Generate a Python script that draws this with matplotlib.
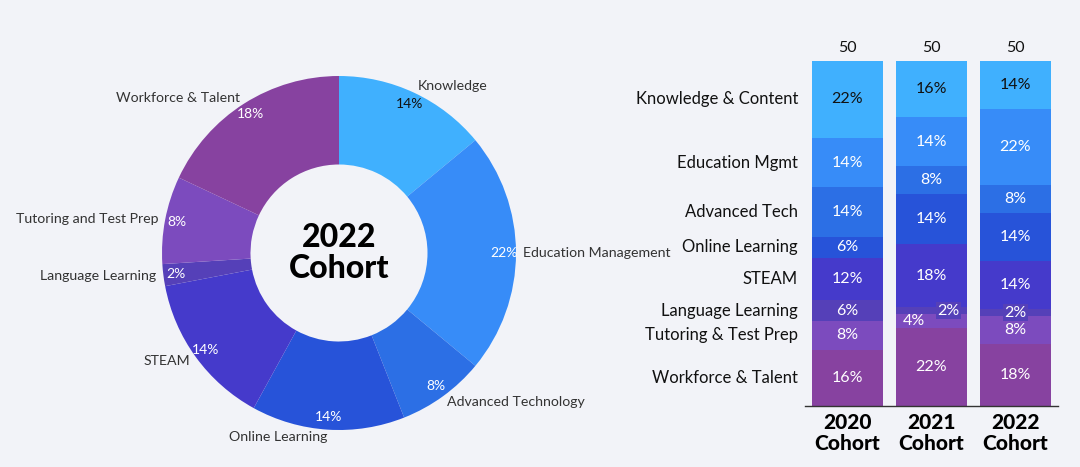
import numpy as np
import matplotlib.pyplot as plt

plt.rcParams['font.family'] = ['Lato', 'DejaVu Sans']

# donut: 2022 cohort
pie_labels = ['Knowledge', 'Education Management', 'Advanced Technology', 'Online Learning',
              'STEAM', 'Language Learning', 'Tutoring and Test Prep', 'Workforce & Talent']
pie_values = [14, 22, 8, 14, 14, 2, 8, 18]

# stacked bars, bottom -> top
bar_cats = ['Workforce & Talent', 'Tutoring & Test Prep', 'Language Learning', 'STEAM',
            'Online Learning', 'Advanced Tech', 'Education Mgmt', 'Knowledge & Content']
cohorts = ['2020\nCohort', '2021\nCohort', '2022\nCohort']
totals = [50, 50, 50]
pct_2020 = [16, 8, 6, 12, 6, 14, 14, 22]
pct_2021 = [22, 4, 2, 18, 14, 8, 14, 16]
pct_2022 = [18, 8, 2, 14, 14, 8, 22, 14]

bg = '#F2F3F8'
pie_colors = ['#40B0FE', '#378CF8', '#2C6FE5', '#2753D9', '#453ACB', '#5540B8', '#7C4BBE', '#8742A0']
bar_colors = ['#8742A0', '#7C4BBE', '#5540B8', '#453ACB', '#2753D9', '#2C6FE5', '#378CF8', '#40B0FE']

fig = plt.figure(figsize=(10.8, 4.67), dpi=100, facecolor=bg)

# ---- donut ----
ax = fig.add_axes([139 / 1080, 14 / 467, 400 / 1080, 400 / 467])
ax.set_facecolor(bg)
wedges, texts, autotexts = ax.pie(pie_values, labels=pie_labels, colors=pie_colors,
                                  startangle=90, counterclock=False,
                                  autopct='%d%%', pctdistance=0.93, labeldistance=1.04,
                                  wedgeprops=dict(width=0.5, linewidth=0),
                                  textprops=dict(fontsize=10.2, color='#333333'))
for i, t in enumerate(autotexts):
    t.set_color('#111111' if i == 0 else 'white')
    t.set_fontsize(10)
ax.text(0, 0, '2022\nCohort', ha='center', va='center', fontsize=23,
        fontweight='black', linespacing=1.05)
lim = 200 / 177
ax.set_xlim(-lim, lim)
ax.set_ylim(-lim, lim)
ax.set_aspect('equal')
ax.axis('off')

# ---- stacked bars ----
bx = fig.add_axes([805 / 1080, 61 / 467, 253 / 1080, 345.5 / 467])
bx.set_facecolor(bg)
data = np.array([pct_2020, pct_2021, pct_2022], dtype=float)
norm = data / data.sum(axis=1, keepdims=True) * 100
x = np.arange(len(cohorts))
bottom = np.zeros(len(cohorts))
offsets = {(1, 1): -18, (1, 2): 17}
for j, cat in enumerate(bar_cats):
    h = norm[:, j]
    bx.bar(x, h, bottom=bottom, width=0.845, color=bar_colors[j], linewidth=0)
    for i in range(len(cohorts)):
        cy = bottom[i] + h[i] / 2
        dx = offsets.get((i, j), 0)
        kw = {}
        if data[i, j] <= 2:
            kw['bbox'] = dict(boxstyle='square,pad=0.1', facecolor=bar_colors[j], edgecolor='none')
        bx.annotate('%d%%' % data[i, j], xy=(x[i], cy), xytext=(dx * 0.72, 0),
                    textcoords='offset points', ha='center', va='center', fontsize=11.5,
                    color='#111111' if j == len(bar_cats) - 1 else 'white', **kw)
    bx.annotate(cat, xy=(0, bottom[0] + h[0] / 2), xycoords=bx.get_yaxis_transform(),
                xytext=(-5, 0), textcoords='offset points', ha='right', va='center',
                fontsize=12, color='#111111')
    bottom += h

for i in range(len(cohorts)):
    bx.annotate(str(totals[i]), xy=(x[i], 100), xytext=(0, 9), textcoords='offset points',
                ha='center', va='center', fontsize=11.5, color='#111111')

bx.set_xlim(-0.506, 2.506)
bx.set_ylim(0, 100)
bx.set_xticks(x)
bx.set_xticklabels(cohorts, fontsize=15, fontweight='black', linespacing=1.15)
bx.tick_params(axis='x', length=0, pad=5)
bx.set_yticks([])
for s in ['top', 'left', 'right']:
    bx.spines[s].set_visible(False)
bx.spines['bottom'].set_color('#333333')
bx.spines['bottom'].set_linewidth(1)

fig.savefig('out.png', dpi=100, facecolor=bg)
